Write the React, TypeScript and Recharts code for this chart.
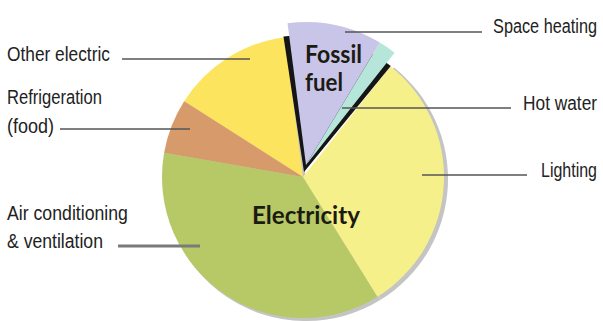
import { useLayoutEffect, useRef, useState } from "react";
import { PieChart, Pie, Cell } from "recharts";

// energy end use, percent of total
const fossilNames = ["Hot water", "Space heating"];
const fossilValues = [2.0, 10.7];
const electricNames = ["Other electric", "Refrigeration (food)", "Air conditioning & ventilation", "Lighting"];
const electricValues = [13.9, 6.3, 36.6, 30.5];

const fossilColors = ["#b6e6da", "#c9c5e9"];
const electricColors = ["#fde45e", "#d79b6b", "#b7c866", "#f6f08a"];

const fossilData = fossilNames.map((name, i) => ({ name, value: fossilValues[i] }));
const electricData = electricNames.map((name, i) => ({ name, value: electricValues[i] }));

const fossilTotal = fossilValues.reduce((a, b) => a + b, 0);
const total = fossilTotal + electricValues.reduce((a, b) => a + b, 0);
const START = 51.7;
const fossilEnd = START + (fossilTotal / total) * 360;

const CX = 303;
const CY = 177;
const R = 141;

const labelFont = "'Liberation Sans', Arial, sans-serif";
const boldFont = "Lato, 'Open Sans', sans-serif";

// squeezes a text horizontally so it fills `width` (the original uses a condensed face)
const FitText = ({
  x,
  y,
  width,
  anchor = "start",
  children,
}: {
  x: number;
  y: number;
  width: number;
  anchor?: "start" | "end";
  children: string;
}) => {
  const ref = useRef<SVGTextElement>(null);
  const [s, setS] = useState(1);
  useLayoutEffect(() => {
    const w = ref.current?.getComputedTextLength();
    if (w) setS(width / w);
  }, [width, children]);
  return (
    <text ref={ref} transform={`translate(${x} ${y}) scale(${s} 1)`} textAnchor={anchor}>
      {children}
    </text>
  );
};

const App = () => {
  return (
    <div style={{ position: "absolute", left: 0, top: 0, width: 603, height: 321, background: "#fff" }}>
      <PieChart width={603} height={321} margin={{ top: 0, right: 0, bottom: 0, left: 0 }}>
        {/* soft shadow */}
        <Pie
          data={electricData}
          dataKey="value"
          cx={CX + 3}
          cy={CY + 2}
          outerRadius={R + 1}
          startAngle={fossilEnd}
          endAngle={START + 360}
          stroke="none"
          fill="#c4c4c4"
          isAnimationActive={false}
        />
        <Pie
          data={electricData}
          dataKey="value"
          nameKey="name"
          cx={CX}
          cy={CY}
          outerRadius={R}
          startAngle={fossilEnd}
          endAngle={START + 360}
          stroke="none"
          isAnimationActive={false}
        >
          {electricData.map((d, i) => (
            <Cell key={d.name} fill={electricColors[i]} stroke="none" />
          ))}
        </Pie>
        {/* dark edge under the exploded fossil wedge */}
        <Pie
          data={[{ name: "Fossil fuel", value: fossilTotal }]}
          dataKey="value"
          cx={CX + 1}
          cy={CY - 5}
          outerRadius={R - 4}
          startAngle={START - 1}
          endAngle={fossilEnd + 1.2}
          stroke="none"
          fill="#151515"
          isAnimationActive={false}
        />
        <Pie
          data={fossilData}
          dataKey="value"
          nameKey="name"
          cx={CX + 3}
          cy={CY - 12}
          outerRadius={R + 2}
          startAngle={START}
          endAngle={fossilEnd}
          stroke="none"
          isAnimationActive={false}
        >
          {fossilData.map((d, i) => (
            <Cell key={d.name} fill={fossilColors[i]} stroke="none" />
          ))}
        </Pie>
      </PieChart>
      <svg width={603} height={321} style={{ position: "absolute", left: 0, top: 0, pointerEvents: "none" }}>
        <g stroke="#555" strokeWidth={1.5}>
          <line x1={345} y1={32} x2={482} y2={32} />
          <line x1={342} y1={108} x2={511} y2={108} />
          <line x1={422} y1={175} x2={527} y2={175} />
          <line x1={122} y1={59} x2={250} y2={59} />
          <line x1={60} y1={129} x2={190} y2={129} />
        </g>
        <line x1={118} y1={246} x2={200} y2={246} stroke="#7a7a7a" strokeWidth={3} />
        <g fill="#222" fontFamily={labelFont} fontSize={21}>
          <FitText x={597} y={33} width={104} anchor="end">Space heating</FitText>
          <FitText x={597} y={110} width={74} anchor="end">Hot water</FitText>
          <FitText x={597} y={177} width={56} anchor="end">Lighting</FitText>
          <FitText x={7} y={61} width={103}>Other electric</FitText>
          <FitText x={7} y={104} width={95}>Refrigeration</FitText>
          <FitText x={7} y={133} width={47}>(food)</FitText>
          <FitText x={7} y={220} width={121}>Air conditioning</FitText>
          <FitText x={7} y={248} width={96}>&amp; ventilation</FitText>
        </g>
        <g fill="#1b1b12" fontFamily={boldFont} fontWeight={700} fontSize={24}>
          <FitText x={305} y={63} width={57}>Fossil</FitText>
          <FitText x={305} y={91} width={38}>fuel</FitText>
          <FitText x={252} y={224} width={108}>Electricity</FitText>
        </g>
      </svg>
    </div>
  );
};

export default App;
